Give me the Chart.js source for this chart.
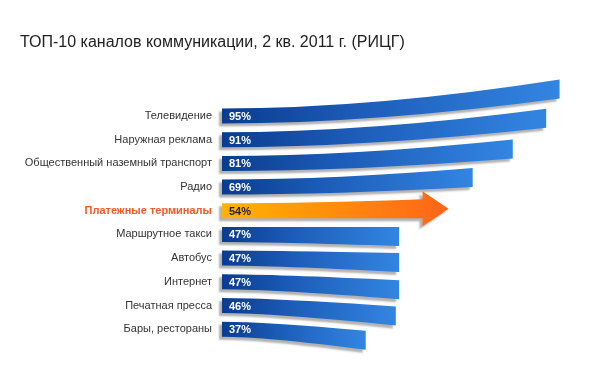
<!DOCTYPE html>
<html>
<head>
<meta charset="utf-8">
<script src="https://cdn.jsdelivr.net/npm/chart.js@4/dist/chart.umd.min.js"></script>
<style>
html,body{margin:0;padding:0;background:#fff;}
#wrap{width:594px;height:384px;position:relative;}
</style>
</head>
<body>
<div id="wrap"><canvas id="c" width="594" height="384"></canvas></div>
<script>
// ---- data ----
const TITLE = 'ТОП-10 каналов коммуникации, 2 кв. 2011 г. (РИЦГ)';
const categories = ['Телевидение','Наружная реклама','Общественный наземный транспорт','Радио','Платежные терминалы','Маршрутное такси','Автобус','Интернет','Печатная пресса','Бары, рестораны'];
const values = [95, 91, 81, 69, 54, 47, 47, 47, 46, 37];
const highlightIndex = 4;

// ---- decorative styling (not data) ----
const BEND = [-27, -21.5, -14.5, -9.5, -2, 2, 4.5, 8, 10.5, 11];
const FLARE = 2;
const FONT = "'Liberation Sans', Arial, sans-serif";

const curvedBars = {
  id: 'curvedBars',
  afterDatasetsDraw(chart) {
    const ctx = chart.ctx;
    const meta = chart.getDatasetMeta(0);
    meta.data.forEach((bar, i) => {
      const p = bar.getProps(['x', 'y', 'base', 'height'], true);
      const x = p.x, y = p.y, base = p.base, h = p.height / 2;
      const b = BEND[i], f = FLARE;
      const isArrow = i === highlightIndex;
      const cx = b < 0 ? base + (x - base) * 0.45 : base + (x - base) * 0.3;
      ctx.save();
      ctx.beginPath();
      ctx.moveTo(base, y - h);
      ctx.quadraticCurveTo(cx, y - h, x, y - h + b - f);
      if (isArrow) {
        ctx.lineTo(x, y - h + b - f - 8);
        ctx.lineTo(x + 26, y + b);
        ctx.lineTo(x, y + h + b + f + 8);
        ctx.lineTo(x, y + h + b + f);
      } else {
        ctx.lineTo(x, y + h + b + f);
      }
      ctx.quadraticCurveTo(cx, y + h, base, y + h);
      ctx.closePath();
      const g = ctx.createLinearGradient(base, 0, x + (isArrow ? 26 : 0), 0);
      if (isArrow) {
        g.addColorStop(0, '#ffb400');
        g.addColorStop(1, '#ff6418');
      } else {
        g.addColorStop(0, '#0a3c8e');
        g.addColorStop(0.4, '#1c5cb8');
        g.addColorStop(1, '#3385e2');
      }
      ctx.shadowColor = 'rgba(0,0,0,0.3)';
      ctx.shadowBlur = 2;
      ctx.shadowOffsetX = -3;
      ctx.shadowOffsetY = 3;
      ctx.fillStyle = g;
      ctx.fill();
      ctx.restore();

      ctx.save();
      ctx.font = 'bold 11px ' + FONT;
      ctx.textBaseline = 'middle';
      ctx.textAlign = 'left';
      ctx.fillStyle = isArrow ? '#222' : '#fff';
      ctx.fillText(values[i] + '%', base + 7, y + 1);
      ctx.restore();
    });
  }
};

new Chart(document.getElementById('c'), {
  type: 'bar',
  data: {
    labels: categories,
    datasets: [{
      data: values,
      base: -6,
      barThickness: 15,
      backgroundColor: 'rgba(0,0,0,0)',
      borderWidth: 0
    }]
  },
  options: {
    indexAxis: 'y',
    responsive: false,
    animation: false,
    events: [],
    layout: { padding: { left: 20, right: 1, top: 0, bottom: 43 } },
    scales: {
      x: { display: false, min: -6, max: 105 },
      y: {
        afterFit: (s) => { s.width = 202; },
        grid: { display: false, drawTicks: false },
        border: { display: false },
        ticks: {
          padding: 10,
          color: (c) => c.index === highlightIndex ? '#f05a28' : '#333',
          font: (c) => ({ family: FONT, size: 11, weight: c.index === highlightIndex ? 'bold' : 'normal' })
        }
      }
    },
    plugins: {
      legend: { display: false },
      tooltip: { enabled: false },
      title: {
        display: true,
        text: TITLE,
        align: 'start',
        color: '#222',
        font: { family: FONT, size: 16, weight: 'normal' },
        padding: { top: 33, bottom: 52 }
      }
    }
  },
  plugins: [curvedBars]
});
</script>
</body>
</html>
